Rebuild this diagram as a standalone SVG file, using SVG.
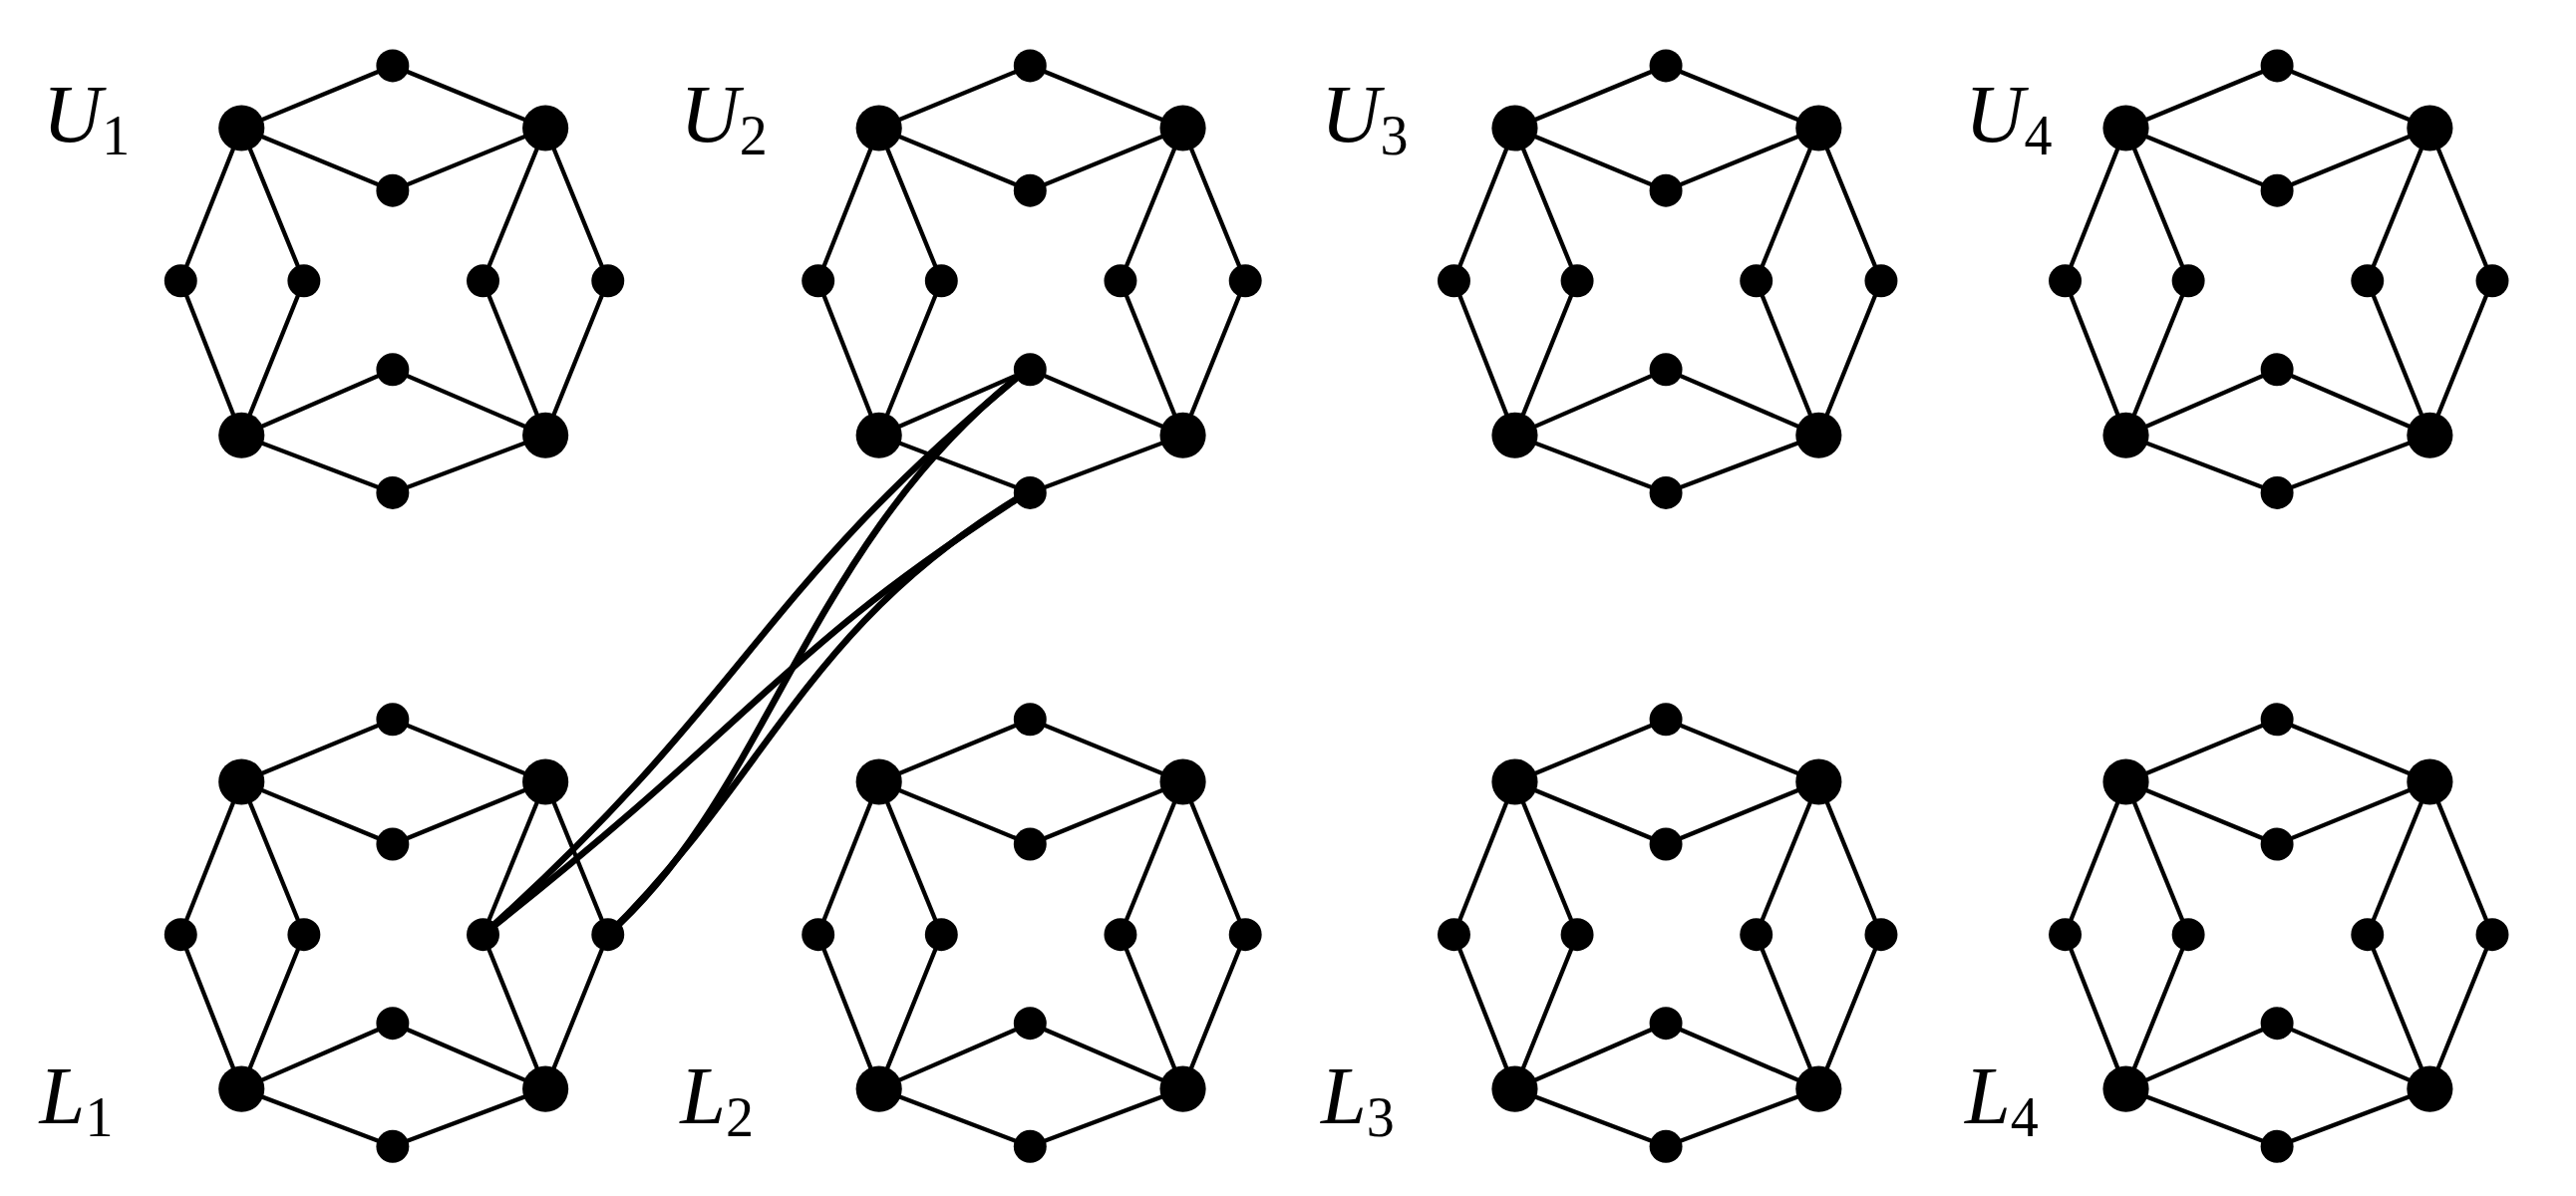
<svg xmlns="http://www.w3.org/2000/svg" width="2584" height="1200" viewBox="0 0 2584 1200">
<defs>
<style>
.e{stroke:#000;stroke-width:2.6;fill:none}
.c{stroke:#000;stroke-width:4;fill:none}
.b{fill:#000}
.t{font-family:"Liberation Serif",serif;font-style:italic;font-size:50px}
.s{font-family:"Liberation Serif",serif;font-size:34px;font-style:normal}
</style>
<g id="gr">
<path class="e" d="M147,78L239,40L332,78L239,116Z M147,265L239,225L332,265L239,300Z M147,78L110,171L147,265L185,171Z M332,78L294,171L332,265L370,171Z"/>
<circle class="b" cx="147" cy="78" r="14"/><circle class="b" cx="332" cy="78" r="14"/>
<circle class="b" cx="147" cy="265" r="14"/><circle class="b" cx="332" cy="265" r="14"/>
<circle class="b" cx="239" cy="40" r="10"/><circle class="b" cx="239" cy="116" r="10"/>
<circle class="b" cx="239" cy="225" r="10"/><circle class="b" cx="239" cy="300" r="10"/>
<circle class="b" cx="110" cy="171" r="10"/><circle class="b" cx="185" cy="171" r="10"/>
<circle class="b" cx="294" cy="171" r="10"/><circle class="b" cx="370" cy="171" r="10"/>
</g>
</defs>
<rect width="2584" height="1200" fill="#fff"/>
<g transform="scale(1.648)">
<g id="U1"><use href="#gr"/><text class="t" x="26" y="86">U<tspan class="s" dy="8">1</tspan></text></g>
<g id="U2"><use href="#gr" x="388"/><text class="t" x="414" y="86">U<tspan class="s" dy="8">2</tspan></text></g>
<g id="U3"><use href="#gr" x="775"/><text class="t" x="804" y="86">U<tspan class="s" dy="8">3</tspan></text></g>
<g id="U4"><use href="#gr" x="1147"/><text class="t" x="1196" y="86">U<tspan class="s" dy="8">4</tspan></text></g>
<g id="L1"><use href="#gr" y="398"/><text class="t" x="24" y="684">L<tspan class="s" dy="8">1</tspan></text></g>
<g id="L2"><use href="#gr" x="388" y="398"/><text class="t" x="414" y="684">L<tspan class="s" dy="8">2</tspan></text></g>
<g id="L3"><use href="#gr" x="775" y="398"/><text class="t" x="804" y="684">L<tspan class="s" dy="8">3</tspan></text></g>
<g id="L4"><use href="#gr" x="1147" y="398"/><text class="t" x="1196" y="684">L<tspan class="s" dy="8">4</tspan></text></g>
<g id="connectors">
<path class="c" d="M294,569C460,420 460,360 625,225"/>
<path class="c" d="M294,569C470,430 470,400 625,300"/>
<path class="c" d="M370,569C470,480 490,330 625,225"/>
<path class="c" d="M370,569C470,470 490,380 625,300"/>
</g>
</g>
</svg>
